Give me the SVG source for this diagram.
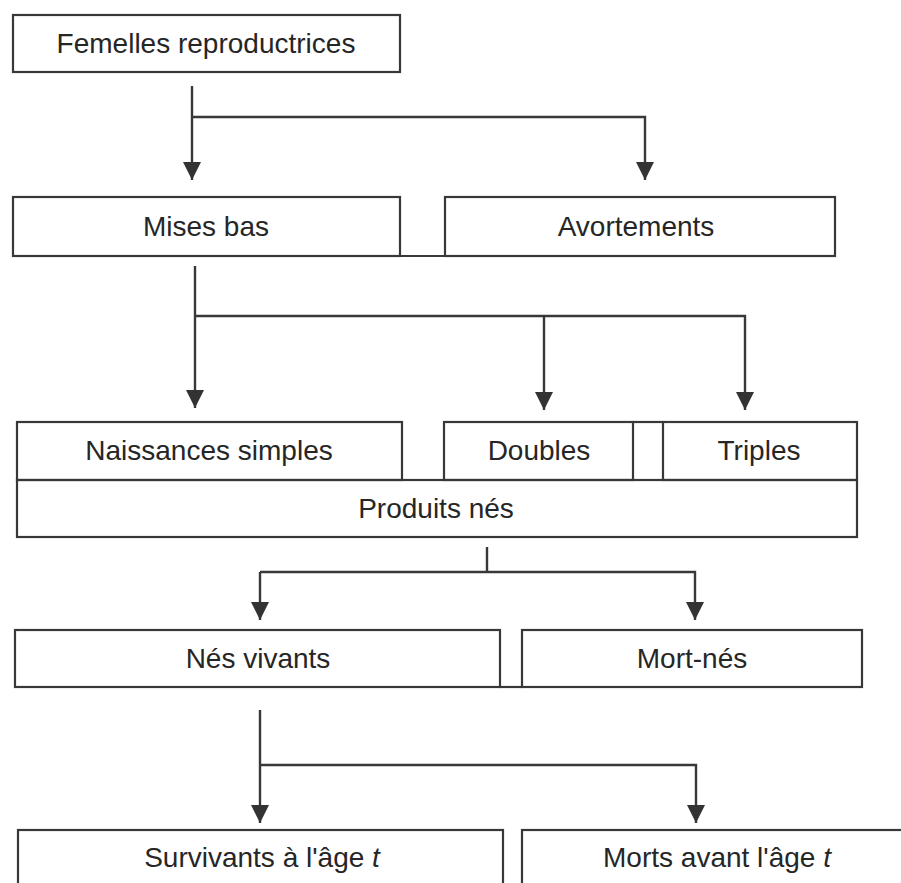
<svg xmlns="http://www.w3.org/2000/svg" width="901" height="883" viewBox="0 0 901 883">
<style>
.box{fill:none;stroke:#383838;stroke-width:2.2}
.ln{fill:none;stroke:#383838;stroke-width:2.2}
.c{fill:none;stroke:#383838;stroke-width:2.4}
text{font-family:"Liberation Sans",Arial,sans-serif;font-size:28px;fill:#262626;text-anchor:middle}
</style>
<defs>
<marker id="ah" markerUnits="userSpaceOnUse" markerWidth="18" markerHeight="18" refX="16" refY="8" orient="auto" viewBox="0 0 16 16">
<path d="M0,0 L16,8 L0,16 z" fill="#333"/>
</marker>
</defs>
<rect width="901" height="883" fill="#fff"/>
<g id="connectors">
<path class="c" d="M192,86 V180" marker-end="url(#ah)"/>
<path class="c" d="M192,117 H645 V180" marker-end="url(#ah)"/>
<path class="c" d="M195,266 V408" marker-end="url(#ah)"/>
<path class="c" d="M195,316 H745 V410" marker-end="url(#ah)"/>
<path class="c" d="M544,316 V410" marker-end="url(#ah)"/>
<path class="c" d="M487,547 V572"/>
<path class="c" d="M260,572 V620" marker-end="url(#ah)"/>
<path class="c" d="M260,572 H695 V620" marker-end="url(#ah)"/>
<path class="c" d="M260,710 V823" marker-end="url(#ah)"/>
<path class="c" d="M260,765 H696 V823" marker-end="url(#ah)"/>
</g>
<g id="femelles">
<rect class="box" x="13" y="15" width="387" height="57"/>
<text x="206" y="53">Femelles reproductrices</text>
</g>
<g id="mises-bas">
<rect class="box" x="13" y="197" width="387" height="59"/>
<line class="ln" x1="400" y1="256" x2="445" y2="256"/>
<text x="206" y="236">Mises bas</text>
</g>
<g id="avortements">
<rect class="box" x="445" y="197" width="390" height="59"/>
<text x="636" y="236">Avortements</text>
</g>
<g id="naissances-simples">
<rect class="box" x="17" y="422" width="385" height="58"/>
<text x="209" y="460">Naissances simples</text>
</g>
<g id="doubles">
<rect class="box" x="444" y="422" width="189" height="58"/>
<text x="539" y="460">Doubles</text>
</g>
<g id="triples">
<rect class="box" x="663" y="422" width="194" height="58"/>
<line class="ln" x1="633" y1="422" x2="663" y2="422"/>
<text x="759" y="460">Triples</text>
</g>
<g id="produits-nes">
<rect class="box" x="17" y="480" width="840" height="57"/>
<text x="436" y="518">Produits nés</text>
</g>
<g id="nes-vivants">
<rect class="box" x="15" y="630" width="485" height="57"/>
<line class="ln" x1="500" y1="687" x2="522" y2="687"/>
<text x="258" y="668">Nés vivants</text>
</g>
<g id="mort-nes">
<rect class="box" x="522" y="630" width="340" height="57"/>
<text x="692" y="668">Mort-nés</text>
</g>
<g id="survivants">
<rect class="box" x="18" y="830" width="485" height="80"/>
<text x="262" y="867">Survivants à l'âge <tspan font-style="italic">t</tspan></text>
</g>
<g id="morts">
<rect class="box" x="522" y="830" width="400" height="80"/>
<text x="717" y="867">Morts avant l'âge <tspan font-style="italic">t</tspan></text>
</g>
</svg>
